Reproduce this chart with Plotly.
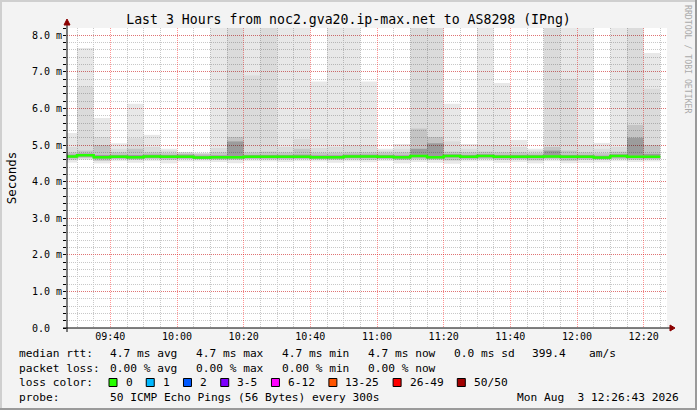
import pandas as pd
import plotly.graph_objects as go

# ---------------- data (milliseconds) ----------------
DAY = "2026-08-03"
times = ["09:30", "09:35", "09:40", "09:45", "09:50", "09:55",
         "10:00", "10:05", "10:10", "10:15", "10:20", "10:25",
         "10:30", "10:35", "10:40", "10:45", "10:50", "10:55",
         "11:00", "11:05", "11:10", "11:15", "11:20", "11:25",
         "11:30", "11:35", "11:40", "11:45", "11:50", "11:55",
         "12:00", "12:05", "12:10", "12:15", "12:20", "12:25"]

rtt_median = [4.69, 4.72, 4.67, 4.68, 4.67, 4.69, 4.68, 4.68, 4.66, 4.67, 4.67, 4.68,
              4.68, 4.68, 4.68, 4.67, 4.67, 4.69, 4.69, 4.68, 4.67, 4.70, 4.67, 4.70,
              4.68, 4.70, 4.68, 4.68, 4.68, 4.69, 4.68, 4.68, 4.66, 4.70, 4.68, 4.68]

rtt_max = [5.33, 7.65, 5.74, 5.05, 6.13, 5.28, 4.90, 4.81, 4.79, 9.8, 12.5, 10.6,
           11.3, 9.4, 10.2, 6.74, 10.9, 9.1, 6.74, 4.90, 5.03, 11.8, 13.6, 6.13,
           5.03, 10.4, 6.70, 5.14, 4.90, 12.1, 9.7, 10.8, 5.06, 9.3, 14.2, 7.52]

rtt_p_b = [4.95, 6.60, 5.22, 4.90, 5.19, 4.95, 4.85, 4.80, 4.78, 4.92, 12.5, 6.90,
           11.3, 4.95, 5.17, 4.92, 4.95, 5.00, 5.00, 4.85, 4.90, 11.8, 13.6, 5.10,
           4.90, 5.00, 5.00, 4.95, 4.85, 12.1, 6.81, 5.00, 4.90, 4.95, 14.2, 6.54]

rtt_p_c = [4.80, 4.85, 5.00, 4.80, 4.90, 4.80, 4.78, 4.77, 4.76, 4.80, 5.22, 4.80,
           4.82, 4.80, 4.90, 4.79, 4.79, 4.80, 4.80, 4.79, 4.80, 5.45, 5.22, 4.82,
           4.80, 4.82, 4.80, 4.80, 4.78, 4.95, 4.85, 4.80, 4.78, 4.82, 5.55, 5.00]

rtt_p_d = [4.74, 4.77, 4.73, 4.73, 4.73, 4.74, 4.73, 4.74, 4.71, 4.72, 5.10, 4.73,
           4.73, 4.73, 4.74, 4.72, 4.72, 4.74, 4.74, 4.73, 4.72, 4.90, 5.05, 4.75,
           4.73, 4.75, 4.73, 4.73, 4.73, 4.85, 4.73, 4.73, 4.71, 4.75, 5.20, 4.76]

rtt_lo = [4.60, 4.64, 4.57, 4.62, 4.60, 4.62, 4.60, 4.62, 4.61, 4.60, 4.60, 4.62,
          4.61, 4.61, 4.62, 4.61, 4.60, 4.61, 4.60, 4.62, 4.59, 4.61, 4.60, 4.58,
          4.61, 4.62, 4.60, 4.61, 4.58, 4.62, 4.57, 4.60, 4.60, 4.62, 4.60, 4.61]

rtt_min = [4.52, 4.60, 4.50, 4.56, 4.52, 4.56, 4.50, 4.55, 4.55, 4.54, 4.50, 4.56,
           4.55, 4.54, 4.56, 4.55, 4.52, 4.55, 4.53, 4.56, 4.50, 4.54, 4.52, 4.49,
           4.55, 4.56, 4.52, 4.54, 4.50, 4.56, 4.50, 4.52, 4.53, 4.56, 4.54, 4.55]

y_tick_vals = [0, 1, 2, 3, 4, 5, 6, 7, 8]
y_tick_text = ["0.0\u00a0\u00a0", "1.0 m", "2.0 m", "3.0 m", "4.0 m", "5.0 m", "6.0 m", "7.0 m", "8.0 m"]

title_text = "Last 3 Hours from noc2.gva20.ip-max.net to AS8298 (IPng)"
rtt_stats = ["4.7 ms avg", "4.7 ms max", "4.7 ms min", "4.7 ms now", "0.0 ms sd", "399.4", "am/s"]
loss_stats = ["0.00 % avg", "0.00 % max", "0.00 % min", "0.00 % now"]
loss_labels = ["0", "1", "2", "3-5", "6-12", "13-25", "26-49", "50/50"]
loss_colors = ["#26ff00", "#00b8ff", "#0059ff", "#7e00ff", "#ff00ff", "#ff5500", "#ff0000", "#a10000"]
probe_text = "50 ICMP Echo Pings (56 Bytes) every 300s"
stamp_text = "Mon Aug\u00a0\u00a03 12:26:43 2026"

# ---------------- geometry helpers ----------------
W, H = 697, 410
L, R, T, B = 67, 30, 28, 82
PW, PH = W - L - R, H - T - B
MONO = "DejaVu Sans Mono"


def px(x):
    return (x - L) / PW


def py(y):
    return (H - B - y) / PH


t_end = pd.to_datetime([f"{DAY} {t}" for t in times])
STEP_MS = 5 * 60 * 1000

fig = go.Figure()


def band(lo, hi, color):
    fig.add_trace(go.Bar(
        x=t_end, base=lo, y=[h - l for l, h in zip(lo, hi)],
        width=STEP_MS, offset=-STEP_MS,
        marker=dict(color=color, line=dict(width=0)),
        hoverinfo="skip", showlegend=False))


band(rtt_min, rtt_max, "rgba(0,0,0,0.09)")
band(rtt_lo, rtt_p_b, "rgba(0,0,0,0.055)")
band(rtt_lo, rtt_p_c, "rgba(0,0,0,0.10)")
band([m - 0.04 for m in rtt_median], rtt_p_d, "rgba(0,0,0,0.20)")

x_step = list(t_end - pd.Timedelta(minutes=5)) + [t_end[-1]]
y_step = rtt_median + [rtt_median[-1]]
fig.add_trace(go.Scatter(x=x_step, y=y_step, mode="lines",
                         line=dict(color=loss_colors[0], width=2.5, shape="hv"),
                         hoverinfo="skip", showlegend=False))

GRID_RED = "rgba(255,0,0,0.42)"
GRID_GRAY = "#c8c8c8"

fig.update_layout(
    width=W, height=H, autosize=False,
    margin=dict(l=L, r=R, t=T, b=B, pad=0),
    paper_bgcolor="#f3f3f3", plot_bgcolor="white",
    barmode="overlay", showlegend=False,
    font=dict(family=MONO, color="black"),
    title=dict(text=title_text, x=0.5, xref="container", xanchor="center",
               y=1 - 19 / H, yref="container", yanchor="middle",
               font=dict(family=MONO, size=13.2, color="black")),
    xaxis=dict(
        type="date",
        range=[f"{DAY} 09:27:00", f"{DAY} 12:27:00"],
        tick0=f"{DAY} 09:40:00", dtick=20 * 60 * 1000, tickformat="%H:%M",
        showgrid=True, gridcolor=GRID_RED, griddash="1px,1px", gridwidth=1,
        minor=dict(dtick=STEP_MS, tick0=f"{DAY} 09:40:00", showgrid=True,
                   gridcolor=GRID_GRAY, griddash="1px,1px", gridwidth=1),
        showline=False, zeroline=False, ticks="",
        tickfont=dict(family=MONO, size=10, color="black"),
        ticklabelstandoff=1,
        fixedrange=True,
    ),
    yaxis=dict(
        range=[0, 8.2],
        tickvals=y_tick_vals, ticktext=y_tick_text,
        showgrid=True, gridcolor=GRID_RED, griddash="1px,1px", gridwidth=1,
        minor=dict(dtick=0.2, showgrid=True, gridcolor=GRID_GRAY, griddash="1px,1px",
                   gridwidth=1, ticks="outside", ticklen=3, tickcolor="black"),
        ticks="outside", ticklen=3, tickcolor="black",
        showline=False, zeroline=False,
        tickfont=dict(family=MONO, size=10, color="black"),
        ticklabelstandoff=-1,
        title=dict(text="Seconds", font=dict(family=MONO, size=12.5, color="black"), standoff=12),
        fixedrange=True,
    ),
)

shapes = []
# frame of the image
shapes.append(dict(type="rect", xref="paper", yref="paper", x0=px(0), x1=px(W), y0=py(0), y1=py(2),
                   fillcolor="#cfcfcf", line=dict(width=0), layer="above"))
shapes.append(dict(type="rect", xref="paper", yref="paper", x0=px(0), x1=px(2), y0=py(0), y1=py(H),
                   fillcolor="#cfcfcf", line=dict(width=0), layer="above"))
shapes.append(dict(type="rect", xref="paper", yref="paper", x0=px(W - 2), x1=px(W), y0=py(0), y1=py(H),
                   fillcolor="#9a9a9a", line=dict(width=0), layer="above"))
shapes.append(dict(type="rect", xref="paper", yref="paper", x0=px(0), x1=px(W), y0=py(H - 2), y1=py(H),
                   fillcolor="#9a9a9a", line=dict(width=0), layer="above"))
# axes with arrows
shapes.append(dict(type="line", xref="paper", yref="paper", x0=px(63), x1=px(671), y0=0, y1=0,
                   line=dict(color="black", width=1), layer="above"))
shapes.append(dict(type="line", xref="paper", yref="paper", x0=0, x1=0, y0=py(332), y1=py(23),
                   line=dict(color="black", width=1), layer="above"))
shapes.append(dict(type="path", xref="paper", yref="paper",
                   path=f"M {px(670)} {py(325)} L {px(675)} {py(328)} L {px(670)} {py(331)} Z",
                   fillcolor="#8b0000", line=dict(color="#8b0000", width=1), layer="above"))
shapes.append(dict(type="path", xref="paper", yref="paper",
                   path=f"M {px(64)} {py(25)} L {px(67)} {py(19)} L {px(70)} {py(25)} Z",
                   fillcolor="#8b0000", line=dict(color="#8b0000", width=1), layer="above"))

annotations = []


def txt(s, x, y, size=11.2, color="black", xanchor="left", angle=0):
    annotations.append(dict(text=s, x=px(x), y=py(y), xref="paper", yref="paper",
                            xanchor=xanchor, yanchor="middle", showarrow=False,
                            textangle=angle,
                            font=dict(family=MONO, size=size, color=color)))


CW = 6.74
ROW = [353, 368, 382.5, 397.5]

txt("median rtt:", 17, ROW[0])
for s, x in zip(rtt_stats, [108, 194, 280, 366, 451.5, 530, 587]):
    txt(s, x, ROW[0])

txt("packet loss:", 17, ROW[1])
for s, x in zip(loss_stats, [108, 194, 280, 366]):
    txt(s, x, ROW[1])

txt("loss color:", 17, ROW[2])
bx = 109
for lab, col in zip(loss_labels, loss_colors):
    shapes.append(dict(type="rect", xref="paper", yref="paper",
                       x0=px(bx), x1=px(bx + 8), y0=py(ROW[2] + 4), y1=py(ROW[2] - 4),
                       fillcolor=col, line=dict(color="black", width=1), layer="above"))
    lx = bx + 14.5
    txt(lab, lx, ROW[2])
    bx = lx + len(lab) * CW + 16

txt("probe:", 17, ROW[3])
txt(probe_text, 108, ROW[3])
txt(stamp_text, 681, ROW[3], xanchor="right")

txt("RRDTOOL / TOBI OETIKER", 688, 59, size=8.2, color="#aaaaaa", xanchor="center", angle=90)

fig.update_layout(shapes=shapes, annotations=annotations)

fig.write_html("out.html",
               config={"displayModeBar": False, "staticPlot": True},
               post_script="document.body.style.margin='0';document.body.style.overflow='hidden';")
